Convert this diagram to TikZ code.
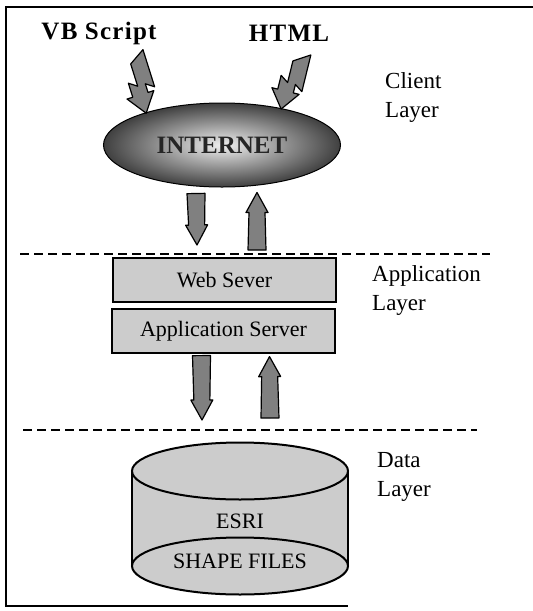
\documentclass[tikz,border=0pt]{standalone}
\usepackage{fontspec}
\setmainfont{Liberation Serif}
\usepackage{tikz}
\usetikzlibrary{calc}
\usetikzlibrary{positioning}
\usetikzlibrary{shapes.geometric}
\definecolor{mgray}{gray}{0.5}
\definecolor{lgray}{gray}{0.8}
\tikzset{title/.style = {font=\fontsize{25}{30}\selectfont\bfseries\addfontfeature{LetterSpace=5}}}
\tikzset{layer/.style = {font=\fontsize{23}{29}\selectfont, align=left, anchor=north west, inner sep=0}}
\tikzset{srv/.style = {draw, line width=1.2pt, fill=lgray, minimum width=223, minimum height=44, inner sep=0, font=\fontsize{22}{24}\selectfont}}
\tikzset{disk/.style = {draw, ellipse, line width=2pt, fill=lgray, minimum width=216, minimum height=57, inner sep=0, outer sep=0}}
\tikzset{dbtext/.style = {font=\fontsize{22}{24}\selectfont}}
\tikzset{arr/.style = {fill=mgray, draw=black, line width=1.2pt, line join=round}}
\tikzset{sep/.style = {line width=2.5pt, dash pattern=on 9pt off 5pt}}
\newcommand{\blockarrow}[2]{%
  \filldraw[arr] let \p1 = ($(#2)-(#1)$), \n1 = {atan2(\y1,\x1)}, \n2 = {veclen(\x1,\y1)} in
    {[shift={(#1)}, rotate=\n1]
     (0pt,9pt) -- (\n2-20pt,8pt) -- (\n2-20pt,11pt) -- (\n2,0pt) -- (\n2-20pt,-11pt)
     -- (\n2-20pt,-8pt) -- (0pt,-9pt) -- cycle};}
\newcommand{\zigarrow}[2]{%
  \filldraw[arr] let \p1 = ($(#2)-(#1)$), \n1 = {atan2(\y1,\x1)}, \n2 = {veclen(\x1,\y1)} in
    {[shift={(#1)}, rotate=\n1]
     (-5pt,12pt) -- (0.6*\n2,12pt) -- (0.5*\n2,4pt) -- (0.66*\n2,4pt) -- (0.66*\n2,10pt)
     -- (\n2,-4pt) -- (0.66*\n2,-18pt) -- (0.66*\n2,-12pt) -- (0.4*\n2,-12pt)
     -- (0.5*\n2,-4pt) -- (5pt,-4pt) -- cycle};}

\begin{document}
\begin{tikzpicture}[x=1pt, y=-1pt]
  \useasboundingbox (0,0) rectangle (533,611);
  \draw [line width=1.5pt] (533,7) -- (6,7) -- (6,606) -- (348,606);

  \node [title] (vbs) at (99,33) {VB Script};
  \node [title] (html) at (289,33) {HTML};
  \node [ellipse, draw, line width=1pt, minimum width=237, minimum height=84, inner sep=0,
         inner color=gray!12, outer color=black!75, font=\fontsize{25}{28}\selectfont\bfseries,
         text=black!85] (inet) at (222,145) {INTERNET};
  \coordinate (vbtop) at (133,58);
  \coordinate (vbtip) at (150,112);
  \coordinate (httop) at (298,57);
  \coordinate (httip) at (285,110);
  \zigarrow{vbtop}{vbtip}
  \zigarrow{httop}{httip}
  \node [layer] (client) at (385,72) {Client\\Layer};

  \coordinate (sl) at (20,254);
  \coordinate (sr) at (490,254);
  \draw [sep] (sl) -- (sr);
  \coordinate (d1) at (197,245);
  \coordinate (u1) at (257,250);
  \blockarrow{[shift={(-26,6)}]inet.south}{d1}
  \blockarrow{u1}{[shift={(35,5)}]inet.south}

  \node [srv] (web) at (224.5,280) {Web Sever};
  \node [srv] (app) at (223.5,331) {Application Server};
  \node [layer] (appl) at (372,265) {Application\\Layer};

  \coordinate (d2) at (202,420);
  \coordinate (u2) at (270,418);
  \blockarrow{[shift={(-22,2)}]app.south}{d2}
  \blockarrow{u2}{[shift={(46,3)}]app.south}
  \coordinate (tl) at (23,430);
  \coordinate (tr) at (477,430);
  \draw [sep] (tl) -- (tr);

  \fill [lgray] (132,471) rectangle (348,566);
  \node [disk] (dbbot) at (240,566) {};
  \node [disk] (dbtop) at (240,471) {};
  \draw [line width=2pt] (dbtop.west) -- (dbbot.west);
  \draw [line width=2pt] (dbtop.east) -- (dbbot.east);
  \node [dbtext] (esri) at (240,521) {ESRI};
  \node [dbtext] (shp) at (240,561) {SHAPE FILES};
  \node [layer] (data) at (377,452) {Data\\Layer};
\end{tikzpicture}
\end{document}
